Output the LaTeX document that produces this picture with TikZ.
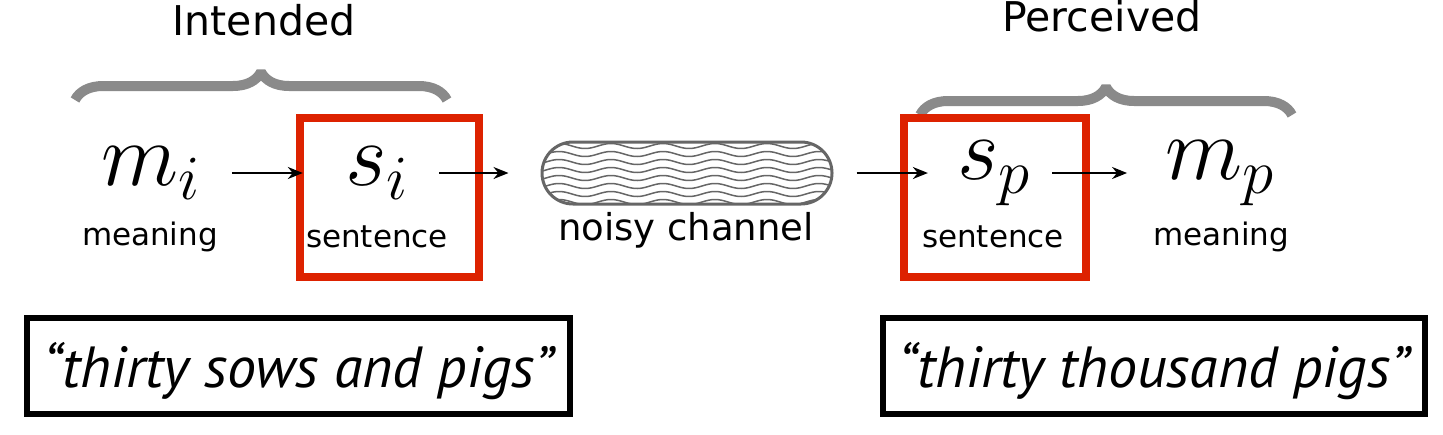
\RequirePackage{fix-cm}
\documentclass[tikz,border=0pt]{standalone}
\usepackage{fontspec}
\usetikzlibrary{arrows.meta,decorations.pathreplacing}
\newfontfamily\labelfont{DejaVu Sans}
\newfontfamily\quotefont{PT Sans}
\definecolor{boxred}{HTML}{DD2200}
\definecolor{bracegray}{HTML}{8A8A8A}
\definecolor{pipegray}{HTML}{666666}
\tikzset{
  var/.style={inner sep=0pt,font=\fontsize{45}{54}\selectfont},
  lbl/.style={anchor=base,inner sep=0pt,font=\labelfont\fontsize{15.5}{18}\selectfont},
  head/.style={anchor=base,inner sep=0pt,font=\labelfont\fontsize{20.5}{24}\selectfont},
  arr/.style={-{Stealth[length=7.5pt,width=6pt]},line width=1pt},
  brc/.style={draw=bracegray,line width=5pt,line join=bevel,
    decorate,decoration={brace,amplitude=14pt}},
  redbox/.style={draw=boxred,line width=4pt,minimum height=79.5pt,inner sep=0pt},
  quotebox/.style={draw=black,line width=3pt,minimum width=271.5pt,minimum height=48pt,
    text height=21pt,text depth=0pt,inner sep=0pt,font=\quotefont\itshape\fontsize{29}{34}\selectfont},
  wave/.style={pipegray,line width=0.75pt}
}
\begin{document}
\begin{tikzpicture}[x=0.5pt,y=-0.5pt]
 \useasboundingbox (0,0) rectangle (1443,434);
 % headings and braces
 \node[head] (intended) at (264,35) {Intended};
 \node[head] (perceived) at (1102,31) {Perceived};
 \draw[brc] (75,100) -- (447,100);
 \draw[brc] (920,115) -- (1292,115);
 % red frames round the sentences
 \node[redbox,minimum width=89.5pt] (boxi) at (389.5,197.5) {};
 \node[redbox,minimum width=91pt] (boxp) at (995,197.5) {};
 % variables
 \node[var] (mi) at (151,173) {$m_i$};
 \node[var] (si) at (377,173) {$s_i$};
 \node[var] (sp) at (994,173) {$s_p$};
 \node[var] (mp) at (1220,173) {$m_p$};
 \node[lbl] (mil) at (150,245) {meaning};
 \node[lbl] (sil) at (377,247) {sentence};
 \node[lbl] (spl) at (993,247) {sentence};
 \node[lbl] (mpl) at (1221,245) {meaning};
 % the channel
 \begin{scope}
  \clip[rounded corners=15.5pt] (542,142) rectangle (832,204);
  \foreach \k in {0,...,8}
   \draw[wave] plot[domain=536:838,samples=120,smooth] (\x,{138+8*\k+2.5*sin(\x/52*360)});
 \end{scope}
 \node[draw=pipegray,line width=1.5pt,rounded corners=15.5pt,minimum width=145pt,
   minimum height=31pt,inner sep=0pt] (ch) at (687,173) {};
 \node[anchor=base,inner sep=0pt,font=\labelfont\fontsize{18.5}{22}\selectfont] (chl) at (686,240) {noisy channel};
 % arrows
 \draw[arr,shorten <=15.5pt,shorten >=21pt] (mi) -- (si);
 \draw[arr,shorten <=15pt,shorten >=16pt] (si) -- (ch);
 \draw[arr,shorten <=11.5pt,shorten >=14.5pt] (ch) -- (sp);
 \draw[arr,shorten <=10.5pt,shorten >=19pt] (sp) -- (mp);
 % the two readings
 \node[quotebox] (qi) at (298.5,366) {“thirty sows and pigs”};
 \node[quotebox,minimum width=271pt] (qp) at (1154,366) {“thirty thousand pigs”};
\end{tikzpicture}
\end{document}
